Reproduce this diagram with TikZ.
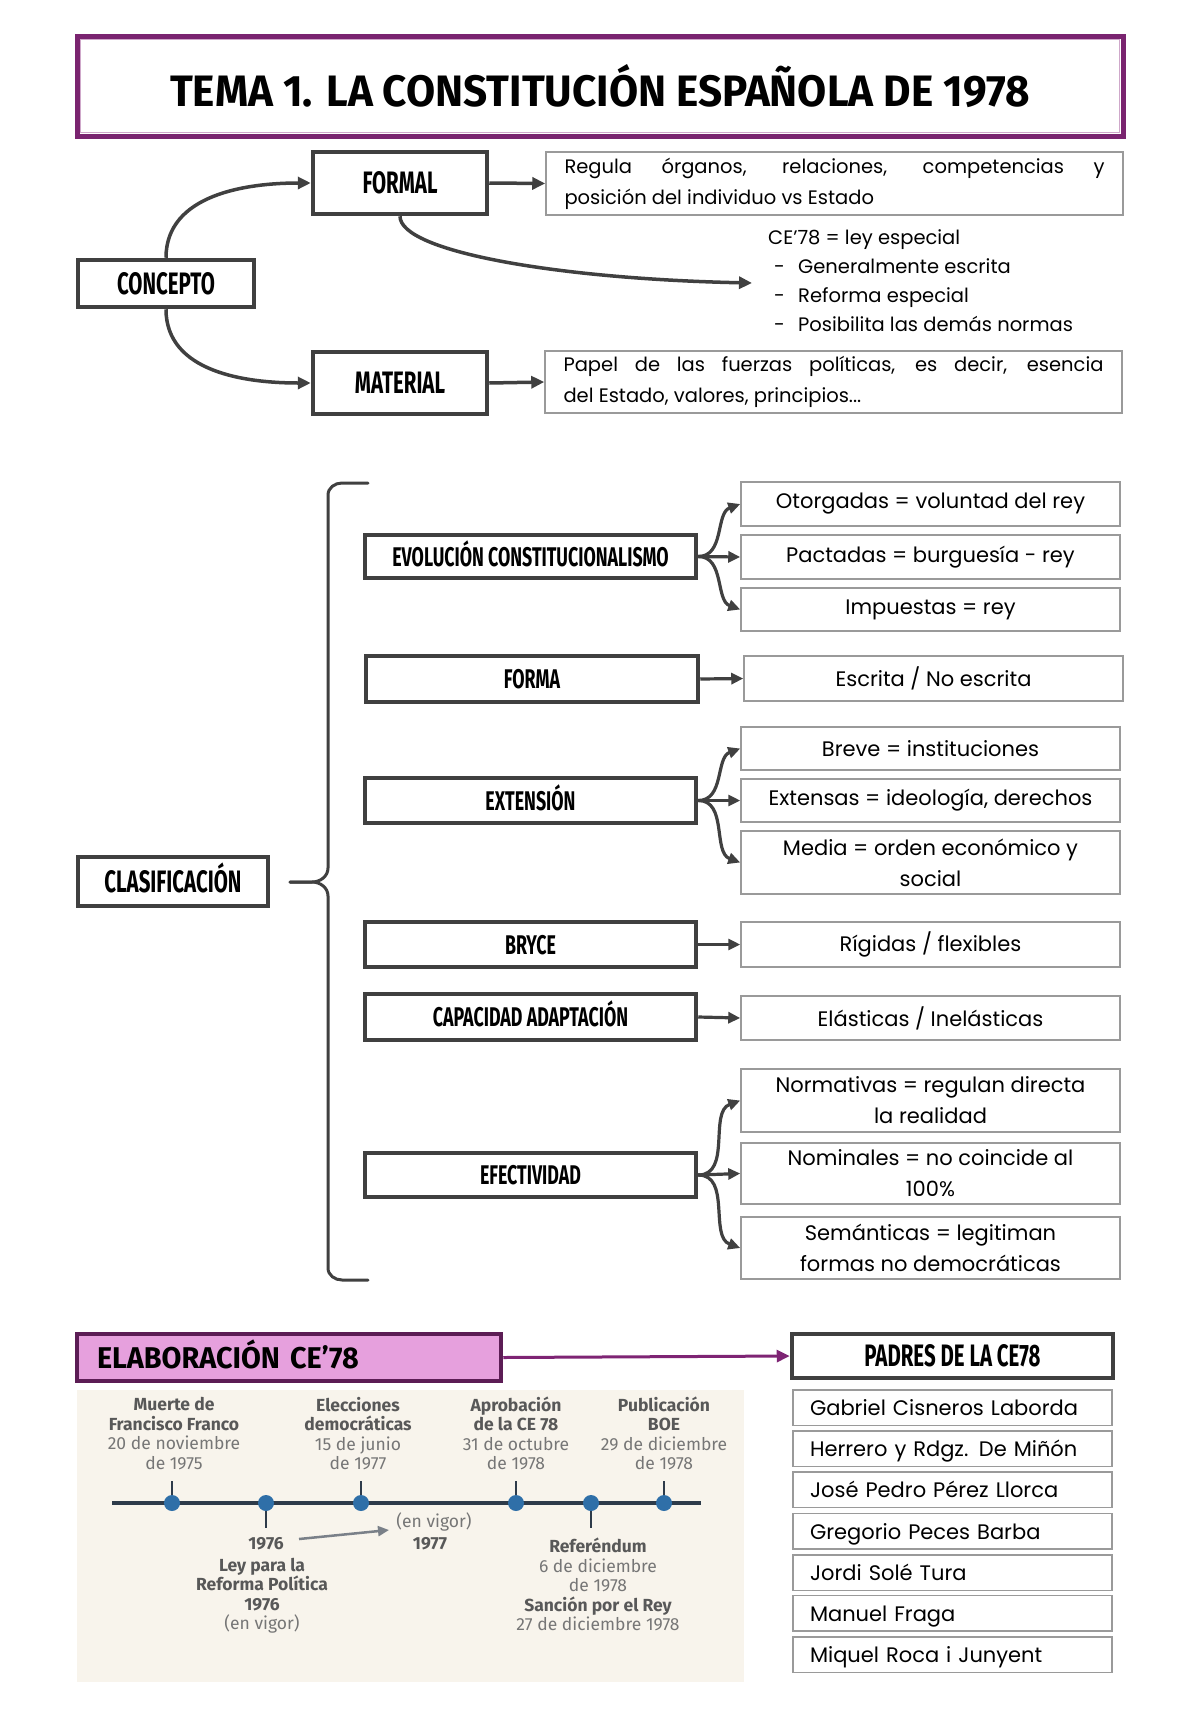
\documentclass[tikz,border=0pt]{standalone}
\usepackage{fontspec}
\usetikzlibrary{arrows.meta}
\setmainfont{Poppins}
\newfontfamily\handfont{Poppins}
\newfontfamily\condfont[FakeStretch=0.66]{Fira Sans}
\newfontfamily\titlefont[FakeStretch=0.96]{Fira Sans}
\newfontfamily\tlfont{Fira Sans}
\definecolor{boxgray}{HTML}{404040}
\definecolor{thingray}{HTML}{9A9A9A}
\definecolor{titlepurple}{HTML}{7A2470}
\definecolor{titlelight}{HTML}{CFA8CA}
\definecolor{pinkfill}{HTML}{E6A0DD}
\definecolor{elabborder}{HTML}{5C1D55}
\definecolor{arrowpurple}{HTML}{7E2474}
\definecolor{tlbg}{HTML}{F8F4EC}
\definecolor{tlline}{HTML}{2E3B4A}
\definecolor{tldot}{HTML}{2F6FA8}
\definecolor{tlDark}{HTML}{585858}
\definecolor{tlLight}{HTML}{767676}
\definecolor{tlarrowc}{HTML}{7A8088}
\newcommand{\tD}[1]{{\color{tlDark}\bfseries #1}}
\newcommand{\tL}[1]{{\color{tlLight}#1}}
\tikzset{
  hbox/.style={draw=boxgray, line width=4.5pt, fill=white, inner sep=0pt,
    text height=21pt, text depth=0pt,
    font=\condfont\bfseries\fontsize{31}{34}\selectfont},
  cbox/.style={draw=boxgray, line width=4.5pt, fill=white, inner sep=0pt,
    text height=19pt, text depth=0pt,
    font=\condfont\bfseries\fontsize{27}{30}\selectfont},
  tbox/.style={draw=thingray, line width=1.5pt, inner sep=0pt, align=center,
    font=\handfont\fontsize{21}{31}\selectfont},
  namebox/.style={draw=thingray, line width=1.5pt, inner ysep=0pt, inner xsep=17pt,
    minimum width=319pt, minimum height=35.5pt, text width=285pt, align=left,
    text height=18pt, text depth=2pt,
    font=\handfont\fontsize{21}{24}\selectfont},
  arr/.style={draw=boxgray, line width=3.5pt, -{Triangle[length=13pt,width=12pt]}},
  arrb/.style={draw=boxgray, line width=3.2pt, -{Triangle[length=12pt,width=11pt]}},
  bracel/.style={draw=boxgray, line width=3pt, line cap=round},
  parr/.style={draw=arrowpurple, line width=3pt, -{Triangle[length=13pt,width=12pt]}},
  tltext/.style={inner sep=0pt, align=center, font=\tlfont\fontsize{17.5}{19.5}\selectfont},
  dot/.style={circle, fill=tldot, minimum size=16pt, inner sep=0pt},
  tick/.style={draw=tlline, line width=2pt},
  tlarrow/.style={draw=tlarrowc, line width=2.5pt, -{Triangle[length=11pt,width=10pt]}},
}
\begin{document}
\begin{tikzpicture}[x=1pt,y=-1pt]
\useasboundingbox (0,0) rectangle (1200,1733);
\fill[white] (0,0) rectangle (1200,1733);

% ---------- title ----------
\node[draw=titlepurple, line width=5pt, minimum width=1046pt, minimum height=100pt, inner sep=0pt] (titleframe) at (600,86) {};
\draw[titlelight, line width=1.2pt] (80.5,39.5) rectangle (1119.5,132.5);
\node[anchor=base, inner sep=0pt, font=\titlefont\bfseries\fontsize{44}{48}\selectfont] (title) at (600,106) {TEMA 1. LA CONSTITUCIÓN ESPAÑOLA DE 1978};

% ---------- concepto ----------
\node[hbox, minimum width=176pt, minimum height=47pt] (concepto) at (166,283.5) {CONCEPTO};
\node[hbox, minimum width=174pt, minimum height=62pt] (formal) at (400,183) {FORMAL};
\node[hbox, minimum width=174pt, minimum height=62pt] (material) at (400,383) {MATERIAL};
\node[tbox, minimum width=577pt, minimum height=63pt, text width=540pt, align=justify, inner xsep=18.5pt, font=\handfont\fontsize{19.5}{31}\selectfont] (regula) at (834.5,183.5) {Regula órganos, relaciones, competencias y\linebreak posición del individuo vs Estado};
\node[tbox, minimum width=577pt, minimum height=62pt, text width=540pt, align=justify, inner xsep=18.5pt, font=\handfont\fontsize{19.5}{31}\selectfont] (papel) at (833.5,382) {Papel de las fuerzas políticas, es decir, esencia\linebreak del Estado, valores, principios...};
\coordinate (cetip) at (752,283);
\node[anchor=north west, inner sep=0pt, align=left, font=\handfont\fontsize{19.5}{29.3}\selectfont] (cetext) at (768,229) {CE’78 = ley especial\\
\makebox[30pt][l]{\hspace{6pt}-}Generalmente escrita\\
\makebox[30pt][l]{\hspace{6pt}-}Reforma especial\\
\makebox[30pt][l]{\hspace{6pt}-}Posibilita las demás normas};

\draw[arr] (concepto.north) to[out=90,in=180] (formal.west);
\draw[arr] (concepto.south) to[out=-90,in=180] (material.west);
\draw[arr] (formal.east) -- (regula.west);
\draw[arr] (material.east) -- (papel.west);
\draw[arr] (formal.south) .. controls (400,252) and (560,279) .. (cetip);

% ---------- clasificacion ----------
\node[hbox, minimum width=190pt, minimum height=49pt] (clas) at (173,881.5) {CLASIFICACIÓN};
\draw[bracel] (368,483) -- (342,483) to[out=180,in=90] (328,495) -- (328,868) to[out=-90,in=0] (312,882) -- (290,882);
\draw[bracel] (290,882) -- (312,882) to[out=0,in=90] (328,896) -- (328,1268) to[out=-90,in=180] (342,1280) -- (368,1280);

\node[cbox, minimum width=331pt, minimum height=43pt] (evo) at (530.5,556.5) {EVOLUCIÓN CONSTITUCIONALISMO};
\node[cbox, minimum width=332pt, minimum height=46pt] (forma) at (532,679) {FORMA};
\node[cbox, minimum width=331pt, minimum height=45pt] (ext) at (530.5,800.5) {EXTENSIÓN};
\node[cbox, minimum width=331pt, minimum height=45pt] (bryce) at (530.5,944.5) {BRYCE};
\node[cbox, minimum width=331pt, minimum height=46pt] (capad) at (530.5,1017) {CAPACIDAD ADAPTACIÓN};
\node[cbox, minimum width=331pt, minimum height=44pt] (efe) at (530.5,1175) {EFECTIVIDAD};

\node[tbox, minimum width=379pt, minimum height=44pt] (oto) at (930.5,504) {Otorgadas = voluntad del rey};
\node[tbox, minimum width=379pt, minimum height=44pt] (pac) at (930.5,557) {Pactadas = burguesía - rey};
\node[tbox, minimum width=379pt, minimum height=43pt] (imp) at (930.5,609.5) {Impuestas = rey};
\node[tbox, minimum width=379pt, minimum height=45pt] (esc) at (933.5,678.5) {Escrita / No escrita};
\node[tbox, minimum width=379pt, minimum height=43pt] (bre) at (930.5,748.5) {Breve = instituciones};
\node[tbox, minimum width=379pt, minimum height=43pt] (exts) at (930.5,800.5) {Extensas = ideología, derechos};
\node[tbox, minimum width=379pt, minimum height=63pt] (med) at (930.5,862.5) {Media = orden económico y\\ social};
\node[tbox, minimum width=379pt, minimum height=45pt] (rig) at (930.5,944.5) {Rígidas / flexibles};
\node[tbox, minimum width=379pt, minimum height=44pt] (ela) at (930.5,1018) {Elásticas / Inelásticas};
\node[tbox, minimum width=379pt, minimum height=63pt] (nor) at (930.5,1100.5) {Normativas = regulan directa\\ la realidad};
\node[tbox, minimum width=379pt, minimum height=61pt] (nom) at (930.5,1173.5) {Nominales = no coincide al\\ 100\%};
\node[tbox, minimum width=379pt, minimum height=62pt] (sem) at (930.5,1248) {Semánticas = legitiman\\ formas no democráticas};

\draw[arrb] (evo.east) to[out=0,in=200] (oto.west);
\draw[arrb] (evo.east) -- (pac.west);
\draw[arrb] (evo.east) to[out=0,in=160] (imp.west);
\draw[arrb] (forma.east) -- (esc.west);
\draw[arrb] (ext.east) to[out=0,in=200] (bre.west);
\draw[arrb] (ext.east) -- (exts.west);
\draw[arrb] (ext.east) to[out=0,in=160] (med.west);
\draw[arrb] (bryce.east) -- (rig.west);
\draw[arrb] (capad.east) -- (ela.west);
\draw[arrb] (efe.east) to[out=0,in=200] (nor.west);
\draw[arrb] (efe.east) -- (nom.west);
\draw[arrb] (efe.east) to[out=0,in=160] (sem.west);

% ---------- elaboracion ----------
\node[draw=elabborder, fill=pinkfill, line width=4.5pt, minimum height=47pt, text width=384pt, inner xsep=20pt, inner ysep=0pt, align=left, text height=22pt, text depth=0pt, font=\titlefont\bfseries\fontsize{30}{34}\selectfont] (elab) at (289,1357.5) {ELABORACIÓN CE’78};
\node[cbox, minimum width=321pt, minimum height=44pt, font=\condfont\bfseries\fontsize{31}{34}\selectfont, text height=21pt] (padres) at (952.5,1356) {PADRES DE LA CE78};
\draw[parr] (elab.east) -- (padres.west);

\node[namebox] (n1) at (952.5,1407.5) {Gabriel Cisneros Laborda};
\node[namebox] (n2) at (952.5,1448.5) {Herrero y Rdgz. De Miñón};
\node[namebox] (n3) at (952.5,1489.5) {José Pedro Pérez Llorca};
\node[namebox] (n4) at (952.5,1531) {Gregorio Peces Barba};
\node[namebox] (n5) at (952.5,1572.5) {Jordi Solé Tura};
\node[namebox] (n6) at (952.5,1613) {Manuel Fraga};
\node[namebox] (n7) at (952.5,1654.5) {Miquel Roca i Junyent};

% ---------- timeline ----------
\fill[tlbg] (77,1390) rectangle (744,1682);
\coordinate (tlL) at (112,1503);
\coordinate (tlR) at (701,1503);
\coordinate (t1) at (172,1481);
\coordinate (t2) at (266,1528);
\coordinate (t3) at (361,1481);
\coordinate (t4) at (516,1481);
\coordinate (t5) at (591,1528);
\coordinate (t6) at (664,1481);
\draw[tick] (172,1503) -- (t1);
\draw[tick] (266,1503) -- (t2);
\draw[tick] (361,1503) -- (t3);
\draw[tick] (516,1503) -- (t4);
\draw[tick] (591,1503) -- (t5);
\draw[tick] (664,1503) -- (t6);
\draw[draw=tlline, line width=4pt] (tlL) -- (tlR);
\node[dot] (d1) at (172,1503) {};
\node[dot] (d2) at (266,1503) {};
\node[dot] (d3) at (361,1503) {};
\node[dot] (d4) at (516,1503) {};
\node[dot] (d5) at (591,1503) {};
\node[dot] (d6) at (664,1503) {};

\node[tltext] (l1) at (174,1433.5) {\tD{Muerte de}\\\tD{Francisco Franco}\\\tL{20 de noviembre}\\\tL{de 1975}};
\node[tltext] (l2) at (358,1433.5) {\tD{Elecciones}\\\tD{democráticas}\\\tL{15 de junio}\\\tL{de 1977}};
\node[tltext] (l3) at (516,1433.5) {\tD{Aprobación}\\\tD{de la CE 78}\\\tL{31 de octubre}\\\tL{de 1978}};
\node[tltext] (l4) at (664,1433.5) {\tD{Publicación}\\\tD{BOE}\\\tL{29 de diciembre}\\\tL{de 1978}};

\node[tltext] (y76) at (266,1544) {\tD{1976}};
\node[tltext] (b1) at (262,1595.5) {\tD{Ley para la}\\\tD{Reforma Política}\\\tD{1976}\\\tL{(en vigor)}};
\node[tltext] (envig) at (434,1522) {\tL{(en vigor)}};
\node[tltext] (y77) at (430,1544) {\tD{1977}};
\coordinate (ta1) at (299,1539);
\coordinate (ta2) at (389,1530);
\draw[tlarrow] (ta1) -- (ta2);
\node[tltext] (b2) at (598,1584.5) {\tD{Referéndum}\\\tL{6 de diciembre}\\\tL{de 1978}\\\tD{Sanción por el Rey}\\\tL{27 de diciembre 1978}};
\end{tikzpicture}
\end{document}
